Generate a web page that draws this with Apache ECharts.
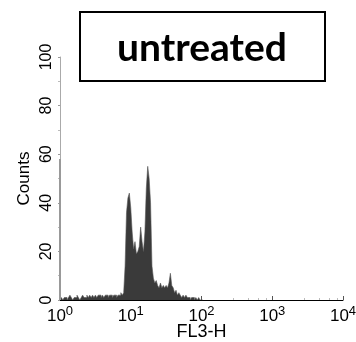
<!DOCTYPE html>
<html>
<head>
<meta charset="utf-8">
<script src="https://cdn.jsdelivr.net/npm/echarts@6/dist/echarts.min.js"></script>
<style>html,body{margin:0;padding:0;background:#fff}#c{width:356px;height:342px}</style>
</head>
<body>
<div id="c"></div>
<script>
// Histogram bins: 50 bins per decade of FL3-H, starting at 10^0
const binsPerDecade = 50;
const counts = [
  0,1,0,1,1,0,1,2,1,0, 1,1,2,1,0,1,2,1,1,2,
  1,2,1,2,1,2,1,2,2,1, 2,1,2,2,1,2,2,1,2,2, 
  1,2,2,3,2,3,14,36,42,44, 38,28,21,24,19,20,22,30,24,20,
  28,46,55,50,40,14,9,7,8,6, 5,7,5,6,5,6,5,7,11,6,
  5,3,4,2,3,2,1,2,1,2, 1,1,0,1,1,0,1,0,1,0, 0
];
const edgeChannelCount = 58;           // pile-up at the first channel
const yTicks = [0, 20, 40, 60, 80, 100];
const xDecades = [0, 1, 2, 3, 4];
const titleText = 'untreated';
const xName = 'FL3-H';
const yName = 'Counts';

const histData = counts.map((c, i) => [Math.pow(10, i / binsPerDecade), c]);
histData.push([Math.pow(10, counts.length / binsPerDecade), 0]);

const chart = echarts.init(document.getElementById('c'), null, {renderer: 'canvas'});
const font = 'Liberation Sans, Arial, Helvetica, sans-serif';
chart.setOption({
  animation: false,
  backgroundColor: '#fff',
  grid: {left: 60, right: 13, top: 57, bottom: 42, containLabel: false, outerBoundsMode: 'none'},
  xAxis: {
    type: 'log', logBase: 10,
    min: Math.pow(10, xDecades[0]), max: Math.pow(10, xDecades[xDecades.length - 1]),
    splitNumber: 4,
    name: xName, nameLocation: 'middle', nameGap: 23, nameMoveOverlap: false,
    nameTextStyle: {fontFamily: font, fontSize: 18, color: '#000'},
    axisLine: {show: true, lineStyle: {color: '#000', width: 1}},
    axisTick: {show: true, inside: true, length: 4, lineStyle: {color: '#555'}},
    minorTick: {show: true, splitNumber: 5, length: 2, lineStyle: {color: '#bbb'}},
    splitLine: {show: false},
    axisLabel: {
      margin: 5,
      formatter: v => '{b|10}{s|' + Math.round(Math.log10(v)) + '}',
      rich: {
        b: {fontFamily: font, fontSize: 17, color: '#000'},
        s: {fontFamily: font, fontSize: 13, color: '#000', padding: [0, 0, 9, 0]}
      }
    }
  },
  yAxis: {
    type: 'value', min: yTicks[0], max: yTicks[yTicks.length - 1], interval: 20,
    name: yName, nameLocation: 'middle', nameGap: 27, nameRotate: 90, nameMoveOverlap: false,
    nameTextStyle: {fontFamily: font, fontSize: 17, color: '#000'},
    axisLine: {show: true, lineStyle: {color: '#aaa', width: 1}},
    axisTick: {show: true, length: 2, lineStyle: {color: '#999'}},
    minorTick: {show: true, splitNumber: 2, length: 2, lineStyle: {color: '#bbb'}},
    splitLine: {show: false},
    axisLabel: {rotate: 90, margin: 5, fontFamily: font, fontSize: 16, color: '#000'}
  },
  series: [
    {
      type: 'line', step: 'end', symbol: 'none', data: histData,
      lineStyle: {color: '#555', width: 0.6},
      areaStyle: {color: '#3a3a3a', opacity: 1}
    },
    {
      type: 'line', symbol: 'none',
      data: [[1, 0], [1, edgeChannelCount]],
      lineStyle: {color: '#999', width: 2}
    }
  ],
  graphic: [
    {type: 'rect', shape: {x: 80, y: 12, width: 245, height: 69},
     style: {fill: '#fff', stroke: '#000', lineWidth: 2}},
    {type: 'text', x: 202, y: 48,
     style: {text: titleText, fontFamily: 'Lato, Open Sans, sans-serif', fontWeight: 'bold', fontSize: 39,
             fill: '#000', align: 'center', verticalAlign: 'middle'}}
  ]
});
</script>
</body>
</html>
